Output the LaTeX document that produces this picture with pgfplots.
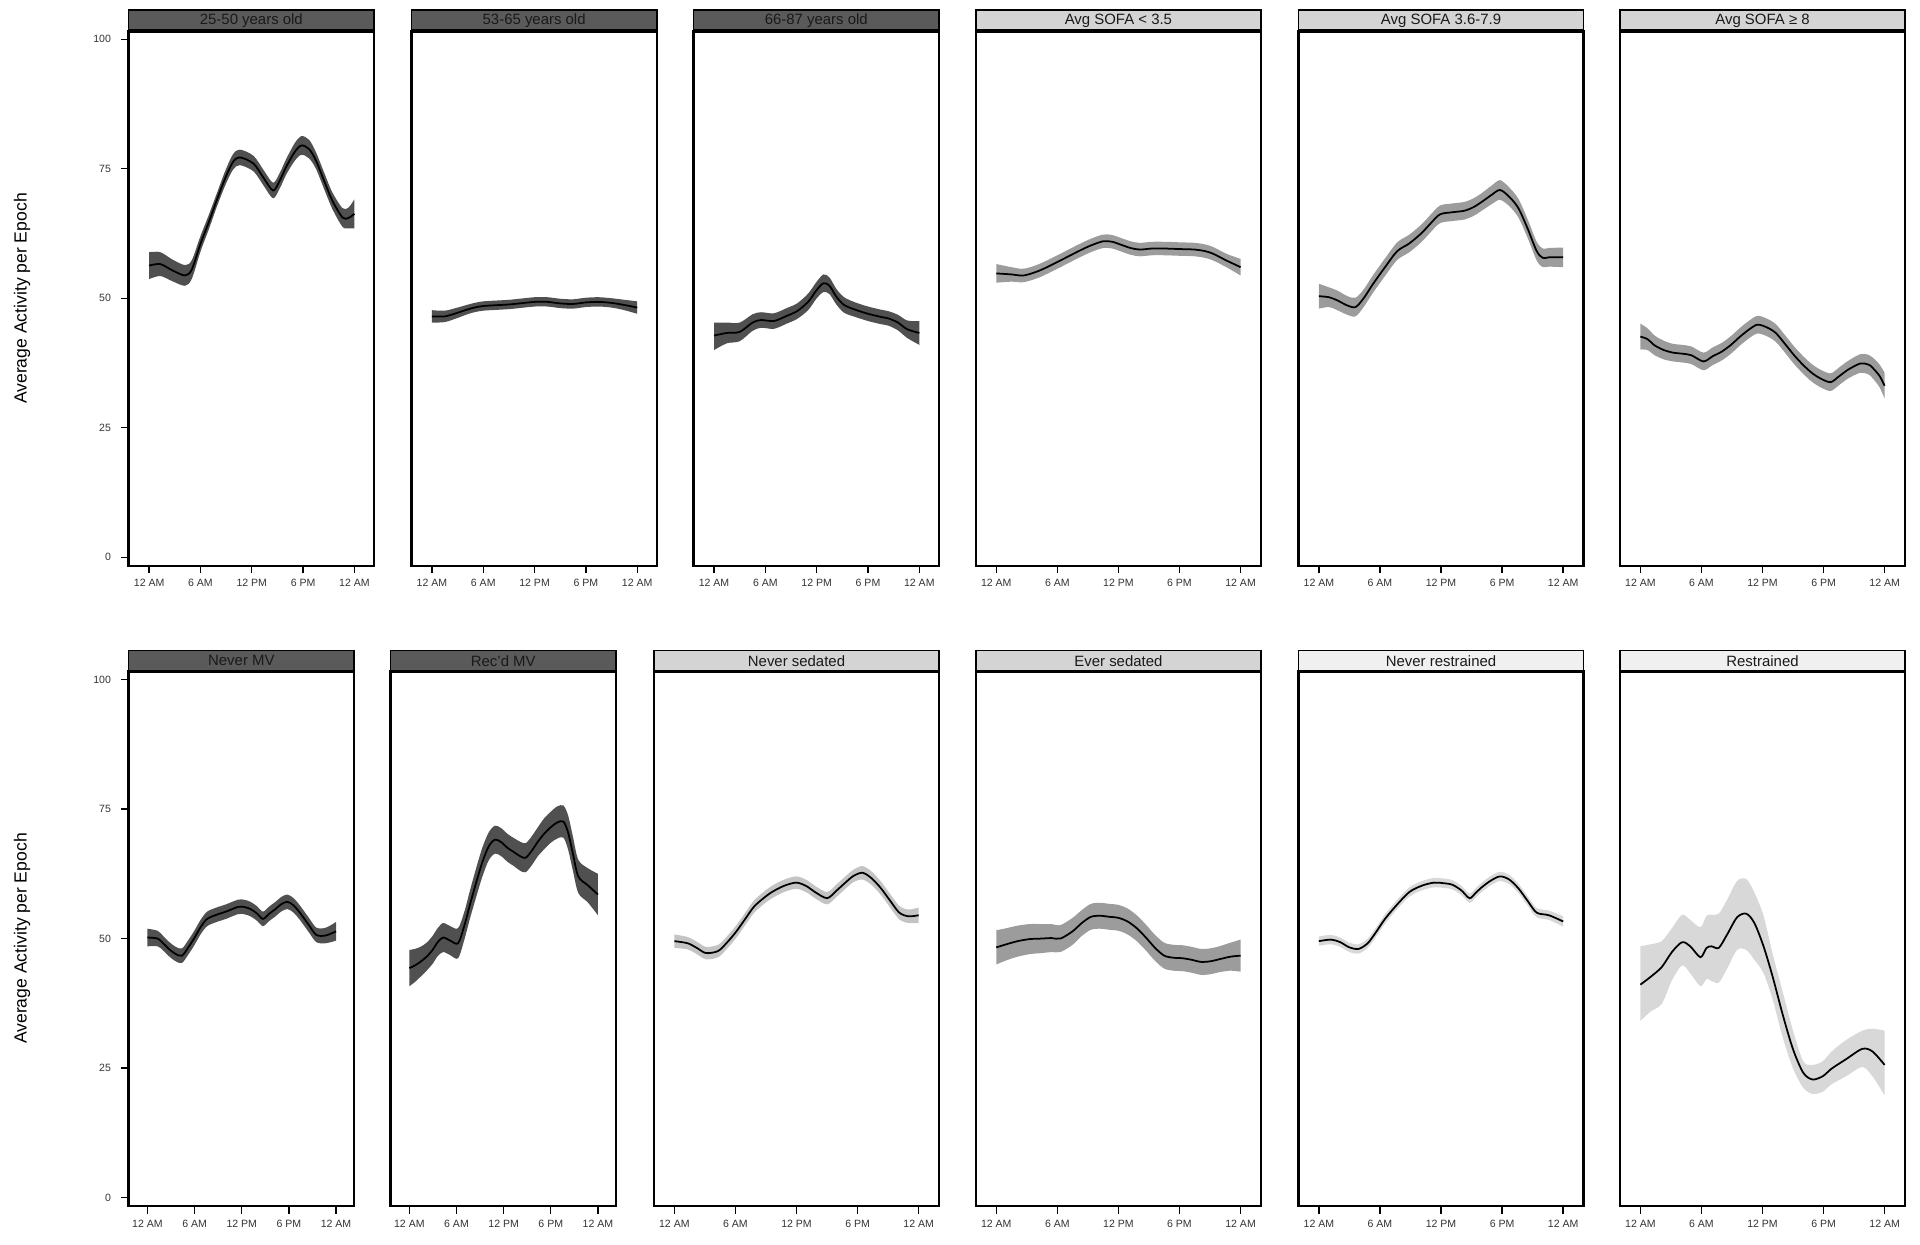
\documentclass[border=0pt]{standalone}
\usepackage{fontspec}
\setmainfont{Liberation Sans}
\usepackage{pgfplots}
\usepackage{pgfplotstable}
\pgfplotsset{compat=1.18}
\usepgfplotslibrary{fillbetween}

\definecolor{stripdark}{HTML}{5A5A5A}
\definecolor{stripmid}{HTML}{D4D4D4}
\definecolor{striplight}{HTML}{F0F0F0}
\definecolor{banddark}{HTML}{505050}
\definecolor{bandmid}{HTML}{9C9C9C}
\definecolor{bandsoft}{HTML}{C4C4C4}
\definecolor{bandlight}{HTML}{D8D8D8}

% hour, mean, lower and upper band
\pgfplotstableread{
h m lo hi
0 56.3 53.7 58.9
1.3 56.6 54.3 58.9
2.7 55.4 53.3 57.5
4.2 54.4 52.4 56.4
5.0 55.6 53.8 57.4
6.0 60.5 59.0 62.0
7.0 64.8 63.4 66.2
7.9 68.9 67.6 70.2
8.9 73.2 71.8 74.6
9.8 76.3 74.8 77.8
10.6 77.2 75.7 78.7
12.2 76.0 74.5 77.5
13.4 73.2 71.7 74.7
14.5 70.8 69.3 72.3
15.3 72.8 71.3 74.3
16.0 75.3 73.8 76.8
17.0 78.2 76.5 79.9
17.8 79.5 77.7 81.3
18.7 78.8 77.0 80.6
19.5 76.6 75.0 78.2
20.5 72.5 70.9 74.1
21.4 68.9 67.3 70.5
22.6 65.6 63.8 67.4
23.3 65.5 63.5 67.5
24.0 66.3 63.5 69.1
}\tAgeA
\pgfplotstableread{
h m lo hi
0 46.5 45.3 47.7
1.5 46.5 45.4 47.6
3 47.2 46.2 48.2
4.5 48.0 47.1 48.9
6 48.5 47.6 49.4
9 48.8 47.9 49.7
12 49.3 48.4 50.2
13.5 49.3 48.4 50.2
15 49.0 48.1 49.9
16.5 48.9 48.0 49.8
18 49.2 48.3 50.1
19.5 49.3 48.4 50.2
21 49.1 48.2 50.0
22.5 48.7 47.7 49.7
24 48.2 47.0 49.4
}\tAgeB
\pgfplotstableread{
h m lo hi
0 42.8 40.0 45.3
1.5 43.3 41.3 45.3
3.0 43.5 41.7 45.3
4.5 45.3 43.7 46.9
5.5 45.8 44.3 47.3
7.0 45.6 44.1 47.1
8.5 46.6 45.1 48.1
9.7 47.5 46.0 49.0
11.0 49.3 47.7 50.9
12.0 51.6 50.0 53.2
12.8 52.9 51.2 54.6
13.5 52.4 50.8 54.0
14.3 50.3 48.8 51.8
15.2 48.7 47.2 50.2
16.5 47.8 46.4 49.2
18.0 47.0 45.6 48.4
19.5 46.4 45.0 47.8
20.4 46.1 44.7 47.5
21.5 45.3 43.8 46.8
22.6 44.0 42.3 45.7
24.0 43.3 41.0 45.6
}\tAgeC
\pgfplotstableread{
h m lo hi
0 54.8 53.0 56.6
1.5 54.6 53.2 56.0
2.7 54.4 53.1 55.7
4.2 55.3 54.0 56.6
5.7 56.7 55.4 58.0
7.0 58.0 56.7 59.3
8.1 59.1 57.8 60.4
9.3 60.2 58.9 61.5
10.5 61.0 59.7 62.3
11.4 60.9 59.6 62.2
12.3 60.3 59.0 61.6
13.2 59.7 58.4 61.0
14.1 59.4 58.1 60.7
15.3 59.6 58.3 60.9
16.5 59.6 58.3 60.9
18.0 59.5 58.2 60.8
19.5 59.4 58.1 60.7
20.5 59.1 57.8 60.4
21.3 58.6 57.3 59.9
22.6 57.3 56.0 58.6
24.0 56.0 54.4 57.6
}\tSofaA
\pgfplotstableread{
h m lo hi
0 50.4 48.0 52.8
1.0 50.2 48.3 52.1
1.8 49.6 47.7 51.5
2.8 48.6 46.8 50.4
3.6 48.3 46.5 50.1
4.4 50.0 48.3 51.7
5.3 52.7 51.0 54.4
6.5 56.0 54.3 57.7
7.7 59.1 57.4 60.8
8.9 60.6 58.9 62.3
10.1 62.6 60.9 64.3
11.0 64.5 62.8 66.2
11.9 66.2 64.5 67.9
13.1 66.6 64.9 68.3
14.3 66.9 65.2 68.6
15.2 67.6 65.9 69.3
16.0 68.6 66.9 70.3
17.0 70.0 68.2 71.8
17.8 70.9 69.0 72.8
18.7 69.6 67.8 71.4
19.6 67.4 65.6 69.2
20.5 63.5 61.7 65.3
21.4 59.1 57.3 60.9
22.0 57.8 56.0 59.6
22.6 57.9 56.1 59.7
24.0 57.9 56.0 59.8
}\tSofaB
\pgfplotstableread{
h m lo hi
0 42.6 40.1 45.1
0.7 42.1 40.0 44.2
1.4 40.9 39.0 42.8
2.3 40.0 38.2 41.8
3.2 39.5 37.8 41.2
4.1 39.3 37.6 41.0
5.0 39.0 37.3 40.7
6.2 37.8 36.1 39.5
7.1 38.8 37.1 40.5
8.0 39.7 38.0 41.4
8.9 41.0 39.3 42.7
9.8 42.6 40.9 44.3
10.7 44.0 42.3 45.7
11.5 44.9 43.2 46.6
12.4 44.4 42.7 46.1
13.3 43.3 41.6 45.0
14.2 41.2 39.5 42.9
15.1 39.0 37.3 40.7
16.0 37.1 35.4 38.8
16.9 35.5 33.8 37.2
17.8 34.4 32.7 36.1
18.7 33.8 32.1 35.5
19.5 34.9 33.2 36.6
20.4 36.2 34.5 37.9
21.6 37.4 35.6 39.2
22.4 37.2 35.3 39.1
22.8 36.6 34.6 38.6
23.5 35.0 32.8 37.2
24.0 33.1 30.6 35.6
}\tSofaC
\pgfplotstableread{
h m lo hi
0 50.2 48.5 51.9
1.3 50.0 48.5 51.5
2.0 49.1 47.7 50.5
2.8 47.9 46.5 49.3
3.6 47.0 45.6 48.4
4.4 46.7 45.3 48.1
5.2 48.3 46.9 49.7
6.0 50.2 48.8 51.6
6.8 52.3 50.9 53.7
7.6 53.8 52.4 55.2
8.8 54.6 53.2 56.0
10.0 55.2 53.8 56.6
11.5 56.1 54.7 57.5
12.3 56.1 54.7 57.5
13.1 55.7 54.3 57.1
13.9 54.9 53.5 56.3
14.7 53.8 52.4 55.2
15.5 54.8 53.4 56.2
16.3 55.7 54.3 57.1
17.0 56.6 55.2 58.0
17.8 57.1 55.7 58.5
18.6 56.4 55.0 57.8
19.4 55.0 53.6 56.4
20.5 52.7 51.3 54.1
21.5 50.7 49.3 52.1
22.7 50.6 49.1 52.1
24.0 51.4 49.6 53.2
}\tMvA
\pgfplotstableread{
h m lo hi
0 44.3 40.8 47.8
0.7 44.8 41.6 48.0
1.4 45.5 42.6 48.4
2.2 46.5 43.8 49.2
3.0 47.9 45.2 50.6
3.6 49.3 46.6 52.0
4.3 50.2 47.4 53.0
5.2 49.6 46.8 52.4
6.2 49.1 46.2 52.0
7.0 52.5 49.8 55.2
7.7 56.5 53.8 59.2
8.5 60.8 58.0 63.6
9.3 64.8 62.0 67.6
10.1 67.8 65.1 70.5
10.9 69.1 66.4 71.8
11.7 68.6 65.9 71.3
12.5 67.5 64.8 70.2
13.3 66.7 64.0 69.4
14.1 65.9 63.1 68.7
14.8 65.6 62.8 68.4
15.6 67.0 64.2 69.8
16.4 68.8 66.0 71.6
17.2 70.3 67.3 73.3
18.0 71.5 68.5 74.5
18.8 72.4 69.3 75.5
19.6 72.6 69.5 75.7
20.2 70.5 67.2 73.8
20.8 66.5 63.2 69.8
21.5 62.0 58.8 65.2
22.7 60.3 57.0 63.6
24.0 58.5 54.5 62.5
}\tMvB
\pgfplotstableread{
h m lo hi
0 49.5 48.2 50.8
1.3 49.1 47.9 50.3
2.2 48.2 47.0 49.4
3.1 47.2 46.0 48.4
4.3 47.6 46.4 48.8
5.2 49.3 48.1 50.5
6.1 51.4 50.2 52.6
7.0 53.9 52.7 55.1
7.8 56.1 54.9 57.3
8.7 57.7 56.5 58.9
9.6 59.0 57.8 60.2
10.8 60.2 59.0 61.4
12.0 60.8 59.6 62.0
13.0 60.1 58.9 61.3
13.8 59.0 57.8 60.2
15.0 57.8 56.6 59.0
15.9 59.2 58.0 60.4
16.8 60.8 59.6 62.0
17.6 62.1 60.9 63.3
18.5 62.7 61.4 64.0
19.4 61.6 60.3 62.9
20.3 59.7 58.4 61.0
21.2 57.3 56.0 58.6
22.1 55.0 53.7 56.3
23.0 54.3 53.0 55.6
24.0 54.5 53.0 56.0
}\tSedA
\pgfplotstableread{
h m lo hi
0 48.3 45.0 51.6
1.0 48.9 45.8 52.0
2.1 49.5 46.5 52.5
3.3 49.9 47.0 52.8
4.5 50.0 47.2 52.8
5.4 50.1 47.4 52.8
6.3 50.0 47.4 52.6
7.5 51.4 48.8 54.0
8.4 53.0 50.5 55.5
9.3 54.2 51.7 56.7
10.2 54.4 51.9 56.9
11.1 54.2 51.7 56.7
12.0 54.0 51.5 56.5
12.9 53.3 50.8 55.8
13.8 52.0 49.5 54.5
14.7 50.2 47.7 52.7
15.6 48.2 45.7 50.7
16.5 46.7 44.2 49.2
17.4 46.3 43.8 48.8
18.3 46.2 43.7 48.7
19.2 45.9 43.4 48.4
20.1 45.5 43.0 48.0
21.0 45.6 43.1 48.1
21.9 46.0 43.5 48.5
23.0 46.5 43.8 49.2
24.0 46.7 43.6 49.8
}\tSedB
\pgfplotstableread{
h m lo hi
0 49.5 48.6 50.4
1.2 49.8 48.9 50.7
2.1 49.3 48.4 50.2
3.0 48.3 47.4 49.2
3.9 48.0 47.1 48.9
4.8 49.1 48.2 50.0
5.6 51.2 50.3 52.1
6.5 53.8 52.9 54.7
7.7 56.6 55.7 57.5
8.9 59.0 58.1 59.9
10.1 60.2 59.3 61.1
11.3 60.8 59.9 61.7
12.2 60.7 59.8 61.6
13.1 60.4 59.5 61.3
14.0 59.3 58.4 60.2
14.8 57.8 56.9 58.7
15.4 58.8 57.9 59.7
16.0 59.9 59.0 60.8
16.9 61.2 60.3 62.1
17.8 62.0 61.1 62.9
18.7 61.4 60.5 62.3
19.6 59.7 58.8 60.6
20.5 57.3 56.4 58.2
21.4 55.0 54.1 55.9
22.6 54.5 53.6 55.4
24.0 53.3 52.3 54.3
}\tResA
\pgfplotstableread{
h m lo hi
0 41.1 34.1 48.5
1.0 42.6 35.9 48.9
2.1 44.5 37.4 49.5
3.1 47.4 41.9 52.0
4.1 49.3 44.8 54.6
4.9 48.5 43.3 53.6
5.9 46.4 40.8 52.2
6.5 48.2 42.2 54.4
7.0 48.5 41.8 54.6
7.7 48.2 41.5 54.8
8.5 50.7 44.1 57.4
9.5 54.1 47.8 61.1
10.4 54.8 47.8 61.5
11.2 53.0 45.9 58.9
12.1 48.5 43.3 54.4
13.0 42.6 38.2 47.0
14.0 35.2 30.8 39.6
15.0 28.6 24.9 32.2
16.0 24.1 21.2 26.3
16.9 22.8 20.0 25.6
17.9 23.4 20.4 26.3
18.8 24.9 21.9 28.2
20.2 26.7 23.4 30.4
21.8 28.7 25.2 32.2
22.8 28.2 23.4 32.6
24.0 25.6 19.7 32.2
}\tResB

\pgfplotsset{
  panel/.style={
    anchor=south west, scale only axis, height=10.694cm,
    xmin=-2, xmax=26, ymin=-1.64, ymax=101.6,
    xtick={0,6,12,18,24},
    xticklabels={12 AM,6 AM,12 PM,6 PM,12 AM},
    ytick=\empty, xtick pos=bottom,
    tick align=outside, major tick length=0.15cm,
    axis line style={line width=1.3pt},
    tick style={black, line width=0.8pt},
    ticklabel style={font=\fontsize{6}{7}\selectfont, text=black!80},
    /pgf/number format/assume math mode=true,
  },
  narrow/.style={xmin=-2.4, xmax=26.3},
  first/.style={ytick={0,25,50,75,100}, ytick pos=left,
    yticklabel style={xshift=-0.08cm}},
}

\newcommand{\band}[2]{%
  \addplot[name path=U, draw=none, smooth] table[x=h, y=hi] {#1};
  \addplot[name path=L, draw=none, smooth] table[x=h, y=lo] {#1};
  \addplot[fill=#2, draw=none] fill between[of=U and L];
  \addplot[black, line width=1pt, smooth] table[x=h, y=m] {#1};
}
\newcommand{\strip}[3]{%
  \draw[fill=#2, line width=0.9pt] (#1.north west) rectangle ([yshift=0.42cm]#1.north east);
  \draw[line width=2pt] (#1.north west) -- (#1.north east);
  \node[font=\fontsize{8.5}{10}\selectfont, text=black!90] at ([yshift=0.21cm]#1.north) {#3};
}

\begin{document}
\begin{tikzpicture}

% top row
\begin{axis}[panel, narrow, first, name=t1, at={(2.572cm,-11.314cm)}, width=4.91cm]
\band{\tAgeA}{banddark}
\end{axis}
\strip{t1}{stripdark}{25-50 years old}
\begin{axis}[panel, narrow, name=t2, at={(8.228cm,-11.314cm)}, width=4.91cm]
\band{\tAgeB}{banddark}
\end{axis}
\strip{t2}{stripdark}{53-65 years old}
\begin{axis}[panel, narrow, name=t3, at={(13.87cm,-11.314cm)}, width=4.91cm]
\band{\tAgeC}{banddark}
\end{axis}
\strip{t3}{stripdark}{66-87 years old}
\begin{axis}[panel, name=t4, at={(19.518cm,-11.314cm)}, width=5.70cm]
\band{\tSofaA}{bandmid}
\end{axis}
\strip{t4}{stripmid}{Avg SOFA < 3.5}
\begin{axis}[panel, name=t5, at={(25.97cm,-11.314cm)}, width=5.70cm]
\band{\tSofaB}{bandmid}
\end{axis}
\strip{t5}{stripmid}{Avg SOFA 3.6-7.9}
\begin{axis}[panel, name=t6, at={(32.40cm,-11.314cm)}, width=5.70cm]
\band{\tSofaC}{bandmid}
\end{axis}
\strip{t6}{stripmid}{Avg SOFA ≥ 8}

% bottom row
\begin{axis}[panel, narrow, first, name=b1, at={(2.572cm,-24.12cm)}, width=4.51cm]
\band{\tMvA}{banddark}
\end{axis}
\strip{b1}{stripdark}{Never MV}
\begin{axis}[panel, narrow, name=b2, at={(7.81cm,-24.12cm)}, width=4.51cm]
\band{\tMvB}{banddark}
\end{axis}
\strip{b2}{stripdark}{Rec'd MV}
\begin{axis}[panel, name=b3, at={(13.08cm,-24.12cm)}, width=5.70cm]
\band{\tSedA}{bandsoft}
\end{axis}
\strip{b3}{stripmid}{Never sedated}
\begin{axis}[panel, name=b4, at={(19.518cm,-24.12cm)}, width=5.70cm]
\band{\tSedB}{bandmid}
\end{axis}
\strip{b4}{stripmid}{Ever sedated}
\begin{axis}[panel, name=b5, at={(25.97cm,-24.12cm)}, width=5.70cm]
\band{\tResA}{bandlight}
\end{axis}
\strip{b5}{striplight}{Never restrained}
\begin{axis}[panel, name=b6, at={(32.40cm,-24.12cm)}, width=5.70cm]
\band{\tResB}{bandlight}
\end{axis}
\strip{b6}{striplight}{Restrained}

\node[rotate=90, font=\fontsize{10}{12}\selectfont] at (0.44cm,-5.97cm) {Average Activity per Epoch};
\node[rotate=90, font=\fontsize{10}{12}\selectfont] at (0.44cm,-18.77cm) {Average Activity per Epoch};
\path[use as bounding box] (0,0) rectangle (38.4cm,-24.88cm);
\end{tikzpicture}
\end{document}
